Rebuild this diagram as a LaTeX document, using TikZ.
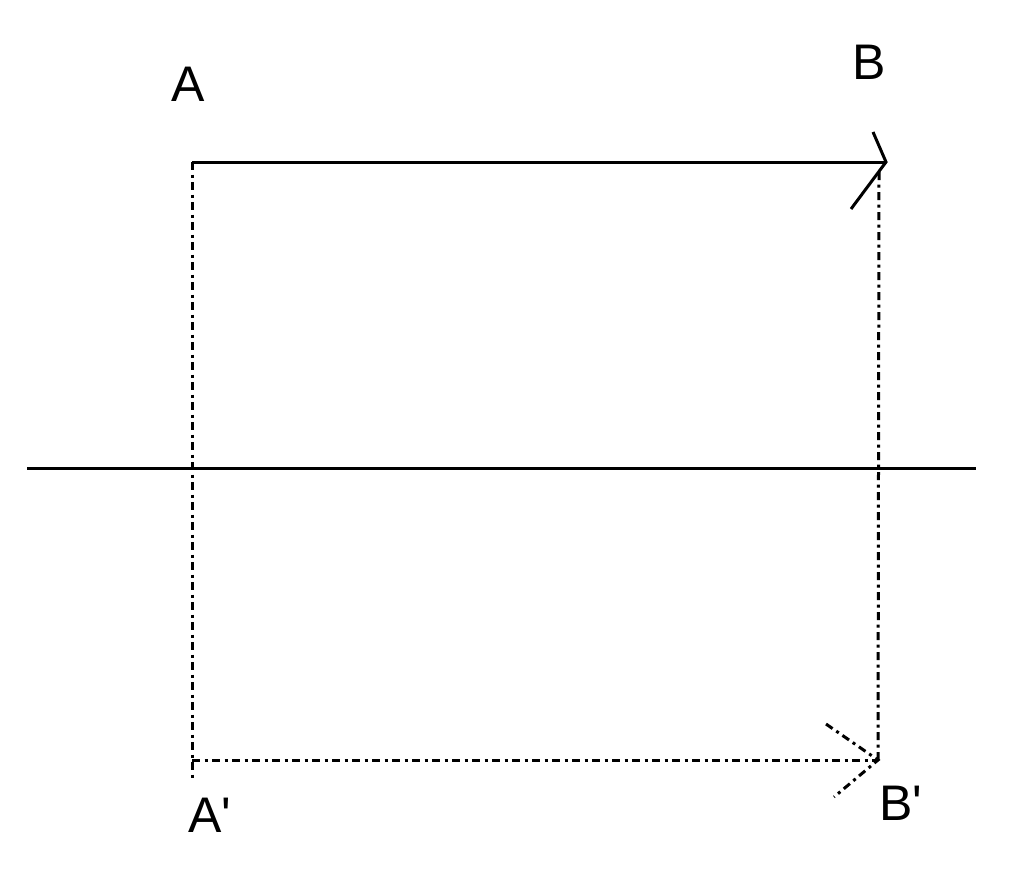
\documentclass[tikz,border=0pt]{standalone}
\usepackage{fontspec}
\setmainfont{Liberation Sans}
\begin{document}
\begin{tikzpicture}[x=1pt,y=-1pt,
  solidline/.style={line width=3pt,black},
  dashdot/.style={line width=3pt,black,dash pattern=on 8pt off 4.5pt on 3pt off 4.5pt},
  lbl/.style={font=\fontsize{50}{60}\selectfont,inner sep=0pt}]
\useasboundingbox (0,0) rectangle (1024,881);
% points
\coordinate (pA) at (192,162);
\coordinate (pB) at (886,162);
\coordinate (pBv) at (879,172);
\coordinate (pAp) at (192,760);
\coordinate (pBp) at (878,760);
\coordinate (axL) at (27,468);
\coordinate (axR) at (976,468);
\coordinate (aTop1) at (873,132);
\coordinate (aTop2) at (851,209);
\coordinate (aBot1) at (826,724);
\coordinate (aBot2) at (834,797);
\coordinate (leftEnd) at (192,780);
% labels
\node[lbl] (A) at (188,84) {A};
\node[lbl] (B) at (869,62) {B};
\node[lbl] (Ap) at (210,815) {A\textquotesingle};
\node[lbl] (Bp) at (901,803) {B\textquotesingle};
% axis
\draw[solidline] (axL) -- (axR);
% AB
\draw[solidline] (pA) -- (pB);
\draw[solidline] (aTop1) -- (pB) -- (aTop2);
% projections
\draw[dashdot] (pA) -- (leftEnd);
\draw[dashdot] (pBv) -- (pBp);
\draw[dashdot] (pAp) -- (pBp);
\draw[dashdot] (aBot1) -- (pBp) -- (aBot2);
\end{tikzpicture}
\end{document}
